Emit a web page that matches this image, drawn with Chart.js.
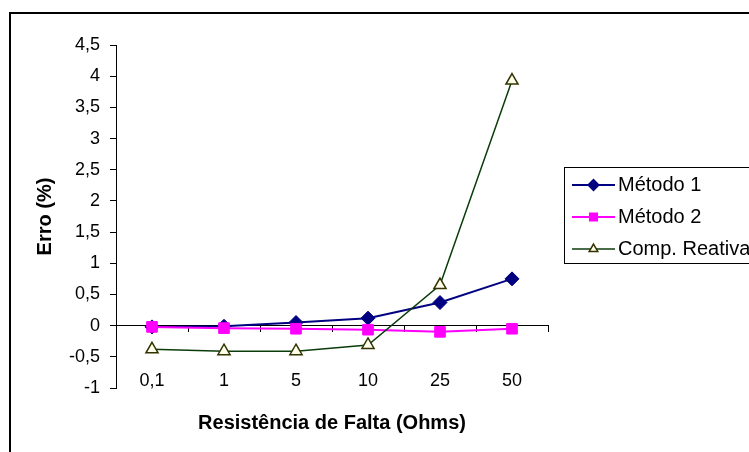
<!DOCTYPE html>
<html>
<head>
<meta charset="utf-8">
<script src="https://cdn.jsdelivr.net/npm/chart.js@4.4.1/dist/chart.umd.min.js"></script>
<style>
  html, body { margin: 0; padding: 0; background: #fff; }
  #wrap { position: relative; width: 749px; height: 452px; overflow: hidden; }
</style>
</head>
<body>
<div id="wrap"><canvas id="erroChart" width="749" height="452"></canvas></div>
<script>
// data
const categories  = ['0,1', '1', '5', '10', '25', '50'];
const metodo1     = [-0.02, -0.01, 0.05, 0.12, 0.37, 0.75];
const metodo2     = [-0.02, -0.04, -0.05, -0.065, -0.1, -0.05];
const compReativa = [-0.38, -0.41, -0.41, -0.31, 0.65, 3.93];
const yMin = -1, yMax = 4.5, yStep = 0.5;

Chart.defaults.font.family = '"Liberation Sans", Arial, sans-serif';
Chart.defaults.color = '#000';

const fmt = v => String(v).replace('.', ',');

// outer frame of the picture (left and top edges visible)
const framePlugin = {
  id: 'frame',
  beforeDraw(chart) {
    const ctx = chart.ctx;
    ctx.save();
    ctx.fillStyle = '#fff';
    ctx.fillRect(0, 0, chart.width, chart.height);
    ctx.lineWidth = 2;
    ctx.strokeStyle = '#000';
    ctx.strokeRect(10, 13, 800, 500);
    ctx.restore();
  }
};

// boxed legend to the right, runs off the edge like the original
const boxLegend = {
  id: 'boxLegend',
  afterDraw(chart) {
    const ctx = chart.ctx;
    const x0 = 564, y0 = 167, rowY = [185, 217, 249];
    ctx.save();
    ctx.fillStyle = '#fff';
    ctx.fillRect(x0, y0, 220, 96);
    ctx.lineWidth = 1;
    ctx.strokeStyle = '#000';
    ctx.strokeRect(x0 + 0.5, y0 + 0.5, 220, 96);
    chart.data.datasets.forEach((ds, i) => {
      const y = rowY[i];
      ctx.strokeStyle = ds.borderColor;
      ctx.lineWidth = ds.borderWidth;
      ctx.beginPath();
      ctx.moveTo(572, y);
      ctx.lineTo(615, y);
      ctx.stroke();
      ctx.fillStyle = ds.pointBackgroundColor;
      ctx.strokeStyle = ds.pointBorderColor;
      Chart.helpers.drawPoint(ctx, {
        pointStyle: ds.pointStyle,
        radius: 5,
        rotation: 0,
        borderWidth: ds.pointBorderWidth
      }, 593.5, y);
      ctx.fillStyle = '#000';
      ctx.font = '20px "Liberation Sans", Arial, sans-serif';
      ctx.textBaseline = 'middle';
      ctx.textAlign = 'left';
      ctx.fillText(ds.label, 618, y);
    });
    ctx.restore();
  }
};

new Chart(document.getElementById('erroChart'), {
  type: 'line',
  data: {
    labels: categories,
    datasets: [
      {
        label: 'Método 1',
        data: metodo1,
        borderColor: '#000080',
        borderWidth: 2,
        pointStyle: 'rectRot',
        pointRadius: 7,
        pointBackgroundColor: '#000080',
        pointBorderColor: '#000080',
        pointBorderWidth: 1,
        tension: 0,
        order: 3
      },
      {
        label: 'Método 2',
        data: metodo2,
        borderColor: '#ff00ff',
        borderWidth: 2,
        pointStyle: 'rect',
        pointRadius: 7.5,
        pointBackgroundColor: '#ff00ff',
        pointBorderColor: '#ff00ff',
        pointBorderWidth: 1,
        tension: 0,
        order: 2
      },
      {
        label: 'Comp. Reativa',
        data: compReativa,
        borderColor: '#0b3d0b',
        borderWidth: 1.5,
        pointStyle: 'triangle',
        pointRadius: 7,
        pointBackgroundColor: '#ffffee',
        pointBorderColor: '#333300',
        pointBorderWidth: 1.5,
        tension: 0,
        order: 1
      }
    ]
  },
  options: {
    responsive: false,
    animation: false,
    devicePixelRatio: 1,
    layout: { padding: { left: 0, top: 45, right: 201, bottom: 0 } },
    plugins: { legend: { display: false }, tooltip: { enabled: false } },
    scales: {
      x: {
        type: 'category',
        position: { y: 0 },
        offset: true,
        grid: { offset: true, drawOnChartArea: false, drawTicks: true, tickLength: 6, color: '#000' },
        border: { color: '#000', width: 1 },
        ticks: { padding: 39, font: { size: 18 }, color: '#000', maxRotation: 0 }
      },
      x2: {
        type: 'category',
        position: 'bottom',
        offset: true,
        labels: categories,
        grid: { display: false, drawTicks: false },
        border: { display: false },
        ticks: { display: false },
        title: {
          display: true,
          text: 'Resistência de Falta (Ohms)',
          font: { size: 20, weight: 'bold' },
          color: '#000',
          padding: { top: 23, bottom: 17 }
        }
      },
      y: {
        min: yMin,
        max: yMax,
        afterFit: s => { s.width = 116; },
        grid: { drawOnChartArea: false, drawTicks: true, tickLength: 6, color: '#000' },
        border: { color: '#000', width: 1 },
        ticks: { stepSize: yStep, padding: 10, font: { size: 18 }, color: '#000', callback: fmt },
        title: {
          display: true,
          text: 'Erro (%)',
          font: { size: 20, weight: 'bold' },
          color: '#000',
          padding: { top: 33, bottom: 0 }
        }
      }
    }
  },
  plugins: [framePlugin, boxLegend]
});
</script>
</body>
</html>
